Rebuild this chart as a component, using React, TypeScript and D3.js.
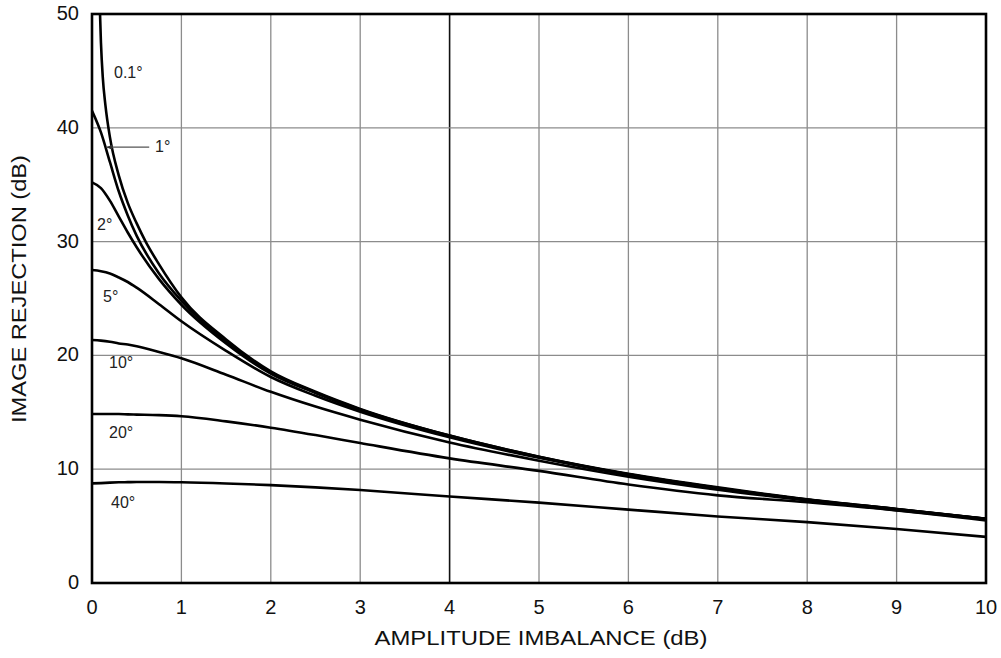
import React from "react";
import * as d3 from "d3";

const WIDTH = 1001;
const HEIGHT = 658;
const MARGIN = { top: 14, right: 15, bottom: 75, left: 92 };

const FONT = "'Liberation Sans', Arial, Helvetica, sans-serif";

// amplitude imbalance (dB) sample points
const X_MAIN = [0, 0.1, 0.2, 0.3, 0.4, 0.5, 0.75, 1, 1.5, 2, 2.5, 3, 4, 5, 6, 7, 8, 9, 10];
const X_FINE = [0.06, 0.08, 0.1, 0.12, 0.15, 0.2, 0.3, 0.4, 0.5, 0.6, 0.75, 1, 1.5, 2, 2.5, 3, 4, 5, 6, 7, 8, 9, 10];

// image rejection (dB) for each phase error
const IR_01 = [58, 52.5, 47.5, 44.5, 42.0, 39.2, 35.8, 33.4, 31.6, 30.0, 28.0, 25.1, 21.4, 18.6, 16.8, 15.3, 12.95, 11.1, 9.6, 8.4, 7.35, 6.5, 5.65];
const IR_1 = [41.5, 39.6, 37.0, 34.4, 32.3, 30.5, 27.2, 24.8, 21.2, 18.5, 16.75, 15.25, 12.95, 11.1, 9.55, 8.35, 7.33, 6.5, 5.65];
const IR_2 = [35.2, 34.7, 33.6, 32.2, 30.8, 29.5, 26.7, 24.45, 21.05, 18.4, 16.7, 15.2, 12.9, 11.05, 9.55, 8.35, 7.32, 6.48, 5.64];
const IR_5 = [27.5, 27.4, 27.2, 26.85, 26.45, 25.95, 24.5, 23.0, 20.4, 18.1, 16.45, 15.05, 12.8, 11.0, 9.5, 8.3, 7.3, 6.45, 5.62];
const IR_10 = [21.35, 21.3, 21.2, 21.05, 20.95, 20.8, 20.3, 19.75, 18.3, 16.8, 15.5, 14.35, 12.35, 10.75, 9.35, 8.2, 7.25, 6.4, 5.6];
const IR_20 = [14.85, 14.85, 14.85, 14.85, 14.82, 14.8, 14.75, 14.65, 14.2, 13.65, 13.0, 12.3, 10.95, 9.85, 8.65, 7.7, 7.1, 6.38, 5.5];
const IR_40 = [8.75, 8.78, 8.82, 8.85, 8.86, 8.87, 8.87, 8.85, 8.75, 8.6, 8.4, 8.17, 7.6, 7.06, 6.45, 5.85, 5.35, 4.75, 4.05];

const SERIES = [
  { name: "0.1", xs: X_FINE, ys: IR_01 },
  { name: "1", xs: X_MAIN, ys: IR_1 },
  { name: "2", xs: X_MAIN, ys: IR_2 },
  { name: "5", xs: X_MAIN, ys: IR_5 },
  { name: "10", xs: X_MAIN, ys: IR_10 },
  { name: "20", xs: X_MAIN, ys: IR_20 },
  { name: "40", xs: X_MAIN, ys: IR_40 },
];

const X_TICKS = [0, 1, 2, 3, 4, 5, 6, 7, 8, 9, 10];
const Y_TICKS = [0, 10, 20, 30, 40, 50];

// curve labels, anchored in data units
const LABELS = [
  { text: "0.1°", x: 0.246, y: 44.4 },
  { text: "1°", x: 0.705, y: 37.9 },
  { text: "2°", x: 0.056, y: 31.0 },
  { text: "5°", x: 0.123, y: 24.7 },
  { text: "10°", x: 0.19, y: 18.9 },
  { text: "20°", x: 0.19, y: 12.75 },
  { text: "40°", x: 0.213, y: 6.6 },
];
const LEADER = { x0: 0.16, x1: 0.64, y: 38.3 };

export default function App() {
  const x = d3
    .scaleLinear()
    .domain([0, 10])
    .range([MARGIN.left, WIDTH - MARGIN.right]);
  const y = d3
    .scaleLinear()
    .domain([0, 50])
    .range([HEIGHT - MARGIN.bottom, MARGIN.top]);

  const line = d3
    .line<[number, number]>()
    .x((d) => x(d[0]))
    .y((d) => y(d[1]))
    .curve(d3.curveMonotoneX);

  const x0 = x(0);
  const x1 = x(10);
  const y0 = y(0);
  const y1 = y(50);

  const lx0 = x(LEADER.x0);
  const ly = y(LEADER.y);

  return (
    <svg
      width={WIDTH}
      height={HEIGHT}
      style={{ position: "absolute", left: 0, top: 0, background: "#fff" }}
      fontFamily={FONT}
    >
      <defs>
        <clipPath id="plot">
          <rect x={x0} y={y1} width={x1 - x0} height={y0 - y1} />
        </clipPath>
      </defs>

      {/* grid */}
      {X_TICKS.slice(1, -1).map((t) => (
        <line
          key={"gx" + t}
          x1={x(t)}
          x2={x(t)}
          y1={y1}
          y2={y0}
          stroke={t === 4 ? "#111" : "#8c8c8c"}
          strokeWidth={t === 4 ? 1.6 : 1.3}
        />
      ))}
      {Y_TICKS.slice(1, -1).map((t) => (
        <line
          key={"gy" + t}
          x1={x0}
          x2={x1}
          y1={y(t)}
          y2={y(t)}
          stroke="#8c8c8c"
          strokeWidth={1.3}
        />
      ))}

      {/* curves */}
      <g clipPath="url(#plot)">
        {SERIES.map((s) => (
          <path
            key={s.name}
            d={line(s.xs.map((v, i) => [v, s.ys[i]] as [number, number])) || ""}
            fill="none"
            stroke="#000"
            strokeWidth={2.6}
          />
        ))}
      </g>

      {/* frame */}
      <rect
        x={x0}
        y={y1}
        width={x1 - x0}
        height={y0 - y1}
        fill="none"
        stroke="#000"
        strokeWidth={2.6}
      />

      {/* leader for 1° */}
      <line x1={lx0} x2={x(LEADER.x1)} y1={ly} y2={ly} stroke="#555" strokeWidth={1.1} />
      <path d={`M${lx0},${ly} l6,-2.5 l0,5 z`} fill="#333" />

      {/* curve labels */}
      {LABELS.map((l) => (
        <text key={l.text} x={x(l.x)} y={y(l.y)} fontSize={16} fill="#222">
          {l.text}
        </text>
      ))}

      {/* tick labels */}
      {X_TICKS.map((t) => (
        <text key={"tx" + t} x={x(t)} y={y0 + 31} fontSize={20} textAnchor="middle" fill="#111">
          {t}
        </text>
      ))}
      {Y_TICKS.map((t) => (
        <text key={"ty" + t} x={x0 - 13} y={y(t) + 6} fontSize={20} textAnchor="end" fill="#111">
          {t}
        </text>
      ))}

      {/* axis titles */}
      <text
        x={541}
        y={645}
        fontSize={21}
        textAnchor="middle"
        fill="#111"
        textLength={333}
        lengthAdjust="spacingAndGlyphs"
      >
        AMPLITUDE IMBALANCE (dB)
      </text>
      <text
        transform="translate(26,289) rotate(-90)"
        fontSize={21}
        textAnchor="middle"
        fill="#111"
        textLength={268}
        lengthAdjust="spacingAndGlyphs"
      >
        IMAGE REJECTION (dB)
      </text>
    </svg>
  );
}
